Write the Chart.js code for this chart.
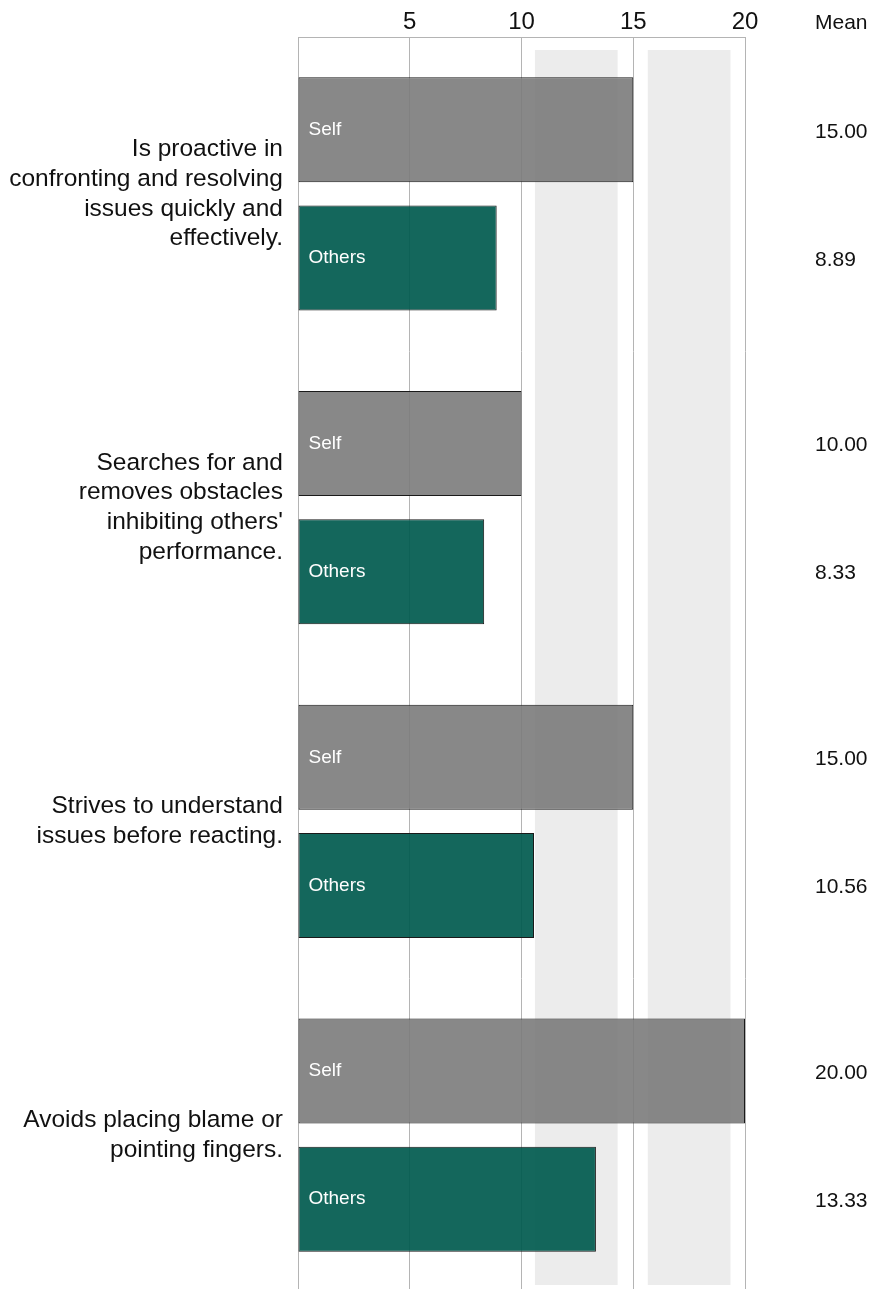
<!DOCTYPE html>
<html lang="en">
<head>
    <meta charset="UTF-8">
    <title>Self vs Others</title>
    <script src="https://cdn.jsdelivr.net/npm/chart.js"></script>
    <style>
        body { margin: 0; overflow: hidden; background: #fff; }
        canvas { display: block; }
    </style>
</head>
<body>
    <canvas id="myChart" width="871" height="1292"></canvas>

    <script>
        // data
        const categories = [
            ["Is proactive in", "confronting and resolving", "issues quickly and", "effectively."],
            ["Searches for and", "removes obstacles", "inhibiting others'", "performance."],
            ["Strives to understand", "issues before reacting."],
            ["Avoids placing blame or", "pointing fingers."]
        ];
        const selfScores = [15, 10, 15, 20];
        const othersScores = [8.89, 8.33, 10.56, 13.33];
        const seriesNames = ["Self", "Others"];
        const bandRanges = [[10.6, 14.3], [15.65, 19.35]];
        const xTicks = [5, 10, 15, 20];
        const meanTitle = "Mean";

        const font = "'Liberation Sans', Arial, sans-serif";

        // grey background bands behind the bars
        const bandPlugin = {
            id: 'bands',
            beforeDatasetsDraw(chart) {
                const x = chart.scales.x;
                const area = chart.chartArea;
                const c = chart.ctx;
                c.save();
                c.fillStyle = '#ececec';
                bandRanges.forEach(r => {
                    const x0 = x.getPixelForValue(r[0]);
                    const x1 = x.getPixelForValue(r[1]);
                    c.fillRect(x0, area.top + 13, x1 - x0, area.bottom - area.top - 20);
                });
                c.restore();
            }
        };

        // "Self"/"Others" inside the bars and the mean column on the right
        const labelPlugin = {
            id: 'labels',
            afterDatasetsDraw(chart) {
                const c = chart.ctx;
                c.save();
                c.textBaseline = 'middle';
                c.textAlign = 'left';
                chart.data.datasets.forEach((ds, i) => {
                    const meta = chart.getDatasetMeta(i);
                    meta.data.forEach((bar, j) => {
                        c.font = '19px ' + font;
                        c.fillStyle = '#ffffff';
                        c.fillText(ds.label, bar.base + 10, bar.y);
                        c.font = '21px ' + font;
                        c.fillStyle = '#111111';
                        c.fillText(ds.data[j].toFixed(2), 815, bar.y + 2);
                    });
                });
                c.font = '21px ' + font;
                c.fillStyle = '#111111';
                c.fillText(meanTitle, 815, 23);
                c.restore();
            }
        };

        const ctx = document.getElementById('myChart').getContext('2d');
        const chart = new Chart(ctx, {
            type: 'bar',
            data: {
                labels: categories,
                datasets: [
                    {
                        label: seriesNames[0],
                        data: selfScores,
                        backgroundColor: 'rgba(123,123,123,0.9)',
                        borderColor: '#1a1a1a',
                        borderWidth: 1,
                        borderSkipped: false
                    },
                    {
                        label: seriesNames[1],
                        data: othersScores,
                        backgroundColor: 'rgba(0,90,78,0.92)',
                        borderColor: '#1a1a1a',
                        borderWidth: 1,
                        borderSkipped: false
                    }
                ]
            },
            options: {
                indexAxis: 'y',
                responsive: false,
                animation: false,
                categoryPercentage: 0.8166,
                barPercentage: 0.82,
                layout: { padding: { left: 0, right: 126, top: 0, bottom: 0 } },
                plugins: {
                    legend: { display: false },
                    tooltip: { enabled: false }
                },
                scales: {
                    x: {
                        type: 'linear',
                        position: 'top',
                        min: 0,
                        max: 20,
                        afterFit(scale) {
                            scale.height = 37;
                            scale.paddingLeft = 0;
                            scale.paddingRight = 0;
                        },
                        afterBuildTicks(scale) {
                            scale.ticks = [0].concat(xTicks).map(v => ({ value: v }));
                        },
                        ticks: {
                            callback: v => (v === 0 ? '' : v),
                            font: { family: font, size: 24 },
                            color: '#111111',
                            padding: 0
                        },
                        grid: { color: '#b4b4b4', drawTicks: false },
                        border: { color: '#b4b4b4' }
                    },
                    y: {
                        afterFit(scale) {
                            scale.width = 298;
                            scale.paddingTop = 0;
                            scale.paddingBottom = 0;
                        },
                        ticks: {
                            font: { family: font, size: 24.5, lineHeight: 1.22 },
                            color: '#111111',
                            padding: 15
                        },
                        grid: { display: false, drawTicks: false },
                        border: { color: '#b4b4b4' }
                    }
                }
            },
            plugins: [bandPlugin, labelPlugin]
        });
    </script>
</body>
</html>
